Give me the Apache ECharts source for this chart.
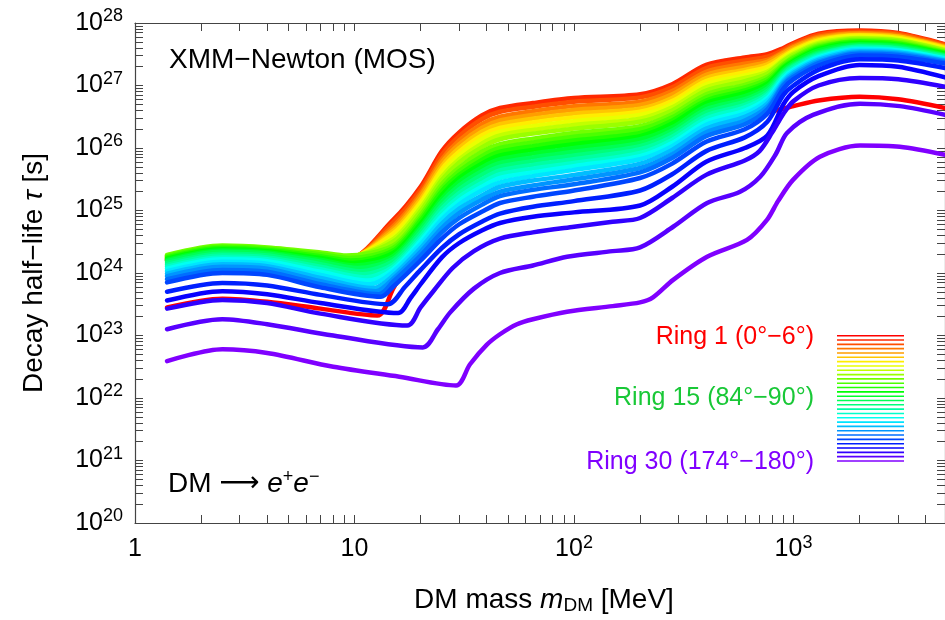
<!DOCTYPE html>
<html><head><meta charset="utf-8">
<script src="https://cdn.jsdelivr.net/npm/echarts@6/dist/echarts.min.js"></script>
<style>html,body{margin:0;padding:0;background:#fff}#c{width:945px;height:620px}</style>
</head><body><div id="c"></div>
<script>
// ---------------- DATA (log10 of decay half-life in s) ----------------
// Rings 2..25 share a mass grid: 4 low-mass points, then a per-ring kink, then the rest
const bandMassLow = [1.4, 2.5, 4, 7];
const bandMassHigh = [15, 20, 25, 30, 38, 46, 65, 100, 200, 280, 400, 600, 760, 900, 1000, 1300, 2000, 3000, 4900];
const bandKinkMass = [9.0, 9.0, 9.0, 9.0, 9.0, 9.0, 9.0, 9.0, 9.0, 9.2, 9.4, 9.6, 9.8, 10.0, 10.3, 10.6, 10.9, 11.2, 11.5, 11.8, 12.2, 12.5, 12.9, 13.2];
const bandKinkLog = [24.18, 24.19, 24.20, 24.21, 24.22, 24.23, 24.24, 24.25, 24.26, 24.28, 24.24, 24.20, 24.16, 24.12, 24.08, 24.03, 23.98, 23.93, 23.88, 23.82, 23.76, 23.71, 23.66, 23.62];
const bandLog = [
 [24.20,24.35,24.32,24.23, 24.85,25.38,25.95,26.25,26.52,26.64,26.72,26.80,26.86,27.02,27.33,27.45,27.50,27.60,27.68,27.83,27.88,27.84,27.66],
 [24.21,24.36,24.33,24.24, 24.81,25.33,25.89,26.19,26.46,26.58,26.66,26.74,26.81,26.97,27.28,27.40,27.46,27.57,27.66,27.81,27.86,27.83,27.65],
 [24.22,24.37,24.34,24.25, 24.75,25.27,25.82,26.12,26.38,26.50,26.59,26.67,26.74,26.91,27.22,27.35,27.41,27.54,27.63,27.78,27.84,27.81,27.63],
 [24.23,24.38,24.35,24.26, 24.71,25.23,25.77,26.06,26.32,26.44,26.53,26.61,26.69,26.86,27.17,27.30,27.38,27.52,27.61,27.76,27.83,27.79,27.62],
 [24.24,24.39,24.36,24.27, 24.67,25.18,25.71,26.00,26.26,26.38,26.47,26.55,26.63,26.80,27.12,27.25,27.34,27.49,27.58,27.74,27.81,27.78,27.61],
 [24.25,24.40,24.37,24.28, 24.63,25.13,25.66,25.94,26.20,26.32,26.41,26.49,26.58,26.75,27.07,27.21,27.30,27.46,27.56,27.72,27.80,27.76,27.60],
 [24.26,24.41,24.38,24.29, 24.58,25.09,25.60,25.88,26.14,26.26,26.35,26.43,26.53,26.70,27.02,27.16,27.26,27.44,27.54,27.70,27.78,27.75,27.58],
 [24.27,24.42,24.39,24.30, 24.54,25.04,25.54,25.82,26.07,26.20,26.29,26.37,26.47,26.65,26.97,27.12,27.22,27.41,27.51,27.68,27.76,27.73,27.57],
 [24.28,24.43,24.40,24.31, 24.50,24.99,25.49,25.77,26.01,26.14,26.23,26.31,26.42,26.60,26.92,27.07,27.19,27.39,27.49,27.66,27.75,27.72,27.56],
 [24.29,24.44,24.41,24.33, 24.44,24.93,25.42,25.69,25.94,26.06,26.15,26.24,26.35,26.54,26.86,27.01,27.14,27.35,27.46,27.64,27.73,27.70,27.54],
 [24.27,24.42,24.39,24.30, 24.40,24.88,25.36,25.63,25.87,26.00,26.09,26.18,26.30,26.49,26.81,26.97,27.10,27.33,27.44,27.62,27.71,27.68,27.53],
 [24.25,24.40,24.37,24.27, 24.36,24.84,25.31,25.57,25.81,25.94,26.03,26.12,26.24,26.44,26.76,26.92,27.06,27.30,27.41,27.60,27.70,27.67,27.52],
 [24.23,24.38,24.35,24.24, 24.32,24.79,25.25,25.52,25.75,25.88,25.97,26.06,26.19,26.39,26.72,26.88,27.03,27.28,27.39,27.58,27.68,27.65,27.51],
 [24.21,24.36,24.33,24.21, 24.27,24.74,25.19,25.46,25.69,25.82,25.91,26.00,26.14,26.33,26.67,26.83,26.99,27.25,27.37,27.56,27.66,27.64,27.49],
 [24.19,24.34,24.31,24.18, 24.23,24.70,25.14,25.40,25.63,25.76,25.85,25.94,26.08,26.28,26.62,26.78,26.95,27.22,27.34,27.53,27.65,27.62,27.48],
 [24.16,24.31,24.28,24.14, 24.19,24.65,25.08,25.34,25.57,25.70,25.79,25.88,26.03,26.23,26.57,26.74,26.91,27.20,27.32,27.51,27.63,27.60,27.47],
 [24.13,24.28,24.25,24.10, 24.14,24.60,25.03,25.28,25.50,25.64,25.73,25.82,25.98,26.18,26.52,26.69,26.87,27.17,27.30,27.49,27.62,27.59,27.46],
 [24.10,24.25,24.22,24.06, 24.10,24.55,24.97,25.22,25.44,25.58,25.67,25.76,25.92,26.13,26.47,26.65,26.84,27.15,27.27,27.47,27.60,27.57,27.44],
 [24.07,24.22,24.19,24.02, 24.06,24.51,24.91,25.16,25.38,25.52,25.61,25.71,25.87,26.08,26.42,26.60,26.80,27.12,27.25,27.45,27.58,27.56,27.43],
 [24.03,24.18,24.15,23.97, 24.02,24.46,24.86,25.10,25.32,25.45,25.55,25.65,25.82,26.03,26.37,26.55,26.76,27.09,27.23,27.43,27.57,27.54,27.42],
 [23.99,24.14,24.11,23.92, 23.96,24.40,24.79,25.03,25.24,25.38,25.48,25.57,25.75,25.97,26.31,26.50,26.71,27.06,27.20,27.41,27.55,27.53,27.40],
 [23.95,24.10,24.07,23.87, 23.91,24.34,24.72,24.96,25.17,25.30,25.40,25.50,25.68,25.90,26.25,26.44,26.66,27.03,27.17,27.38,27.53,27.51,27.39],
 [23.90,24.05,24.02,23.82, 23.86,24.28,24.65,24.88,25.09,25.23,25.33,25.42,25.61,25.84,26.19,26.38,26.62,27.00,27.14,27.36,27.51,27.49,27.37],
 [23.85,24.00,23.97,23.77, 23.78,24.20,24.55,24.78,24.98,25.12,25.22,25.32,25.52,25.75,26.10,26.30,26.55,26.95,27.10,27.32,27.48,27.46,27.35]
];
// Ring 1 and rings 26..30: own mass grids
const ring1Mass  = [1.4,2.5,4,7,12.7,15,20,25,30,38,46,65,86,150,200,280,400,600,760,900,1000,1300,2000,3000,4900];
const ring1Log   = [23.45,23.59,23.54,23.43,23.32,23.75,24.55,25.20,25.60,25.82,25.92,26.00,26.06,26.10,26.15,26.30,26.40,26.50,26.57,26.63,26.67,26.76,26.82,26.78,26.64];
const ring26Mass = [1.4,2.5,4,7,14.2,17,20,25,30,38,46,65,100,200,280,400,600,760,900,1000,1300,2000,3000,4900];
const ring26Log  = [23.70,23.84,23.80,23.65,23.50,23.78,24.05,24.40,24.62,24.82,24.95,25.06,25.15,25.32,25.58,25.95,26.17,26.42,26.85,27.00,27.25,27.42,27.40,27.28];
const ring27Mass = [1.4,2.5,4,7,15.8,18,20,25,30,38,46,65,100,200,280,400,600,760,900,1000,1300,2000,3000,4900];
const ring27Log  = [23.56,23.71,23.66,23.52,23.36,23.60,23.82,24.25,24.48,24.68,24.80,24.90,24.97,25.08,25.38,25.78,26.00,26.20,26.70,26.90,27.15,27.33,27.30,27.13];
const ring28Mass = [1.4,2.5,4,7,17.4,20,23,28,35,46,65,100,150,200,280,400,600,700,800,900,1000,1300,2000,3000,4900];
const ring28Log  = [23.43,23.57,23.52,23.35,23.16,23.45,23.72,24.08,24.35,24.55,24.65,24.74,24.82,24.88,25.20,25.57,25.80,25.95,26.25,26.55,26.75,27.00,27.12,27.10,26.98];
const ring29Mass = [1.4,2.5,4,8,20.5,24,27.3,35,46,65,93,150,200,283,404,571,705,830,934,1227,2010,3050,4900];
const ring29Log  = [23.10,23.26,23.18,23.00,22.81,23.10,23.37,23.75,24.00,24.12,24.26,24.35,24.41,24.74,25.12,25.30,25.54,25.90,26.24,26.53,26.71,26.67,26.53];
const ring30Mass = [1.4,2.5,4,8,16,29,33.6,40,46,55,65,93,150,200,229,283,404,614,757,850,995,1320,2010,3050,4900];
const ring30Log  = [22.59,22.78,22.72,22.50,22.34,22.20,22.54,22.85,23.02,23.18,23.26,23.38,23.47,23.53,23.61,23.89,24.26,24.53,24.85,25.15,25.49,25.86,26.04,26.02,25.89];

// tick labels
const xLabelValues = [1, 10, 100, 1000];
const xLabelBase = ['1', '10', '10', '10'];
const xLabelExp = ['', '', '2', '3'];
const yLabelValues = [1e20, 1e21, 1e22, 1e23, 1e24, 1e25, 1e26, 1e27, 1e28];
const yLabelExp = ['20', '21', '22', '23', '24', '25', '26', '27', '28'];
const legendTexts = ['Ring 1 (0\u00b0\u22126\u00b0)', 'Ring 15 (84\u00b0\u221290\u00b0)', 'Ring 30 (174\u00b0\u2212180\u00b0)'];

// ---------------- BUILD ----------------
function ringColor(i) {
  const h = (i - 1) / 29 * 270;
  const x = 1 - Math.abs((h / 60) % 2 - 1);
  let r, g, b;
  if (h < 60) { r = 1; g = x; b = 0; }
  else if (h < 120) { r = x; g = 1; b = 0; }
  else if (h < 180) { r = 0; g = 1; b = x; }
  else if (h < 240) { r = 0; g = x; b = 1; }
  else { r = x; g = 0; b = 1; }
  return 'rgb(' + Math.round(r * 255) + ',' + Math.round(g * 255) + ',' + Math.round(b * 255) + ')';
}
function pairs(ms, ls) { return ms.map((m, k) => [m, Math.pow(10, ls[k])]); }

const ringData = [];
ringData[1] = pairs(ring1Mass, ring1Log);
for (let r = 2; r <= 25; r++) {
  const row = bandLog[r - 2];
  const ms = bandMassLow.concat([bandKinkMass[r - 2]], bandMassHigh);
  const ls = row.slice(0, 4).concat([bandKinkLog[r - 2]], row.slice(4));
  ringData[r] = pairs(ms, ls);
}
ringData[26] = pairs(ring26Mass, ring26Log);
ringData[27] = pairs(ring27Mass, ring27Log);
ringData[28] = pairs(ring28Mass, ring28Log);
ringData[29] = pairs(ring29Mass, ring29Log);
ringData[30] = pairs(ring30Mass, ring30Log);

const series = [];
for (let r = 1; r <= 30; r++) {
  series.push({
    name: 'Ring ' + r, type: 'line', data: ringData[r], showSymbol: false, symbol: 'none',
    smooth: 0.3,
    lineStyle: { color: ringColor(r), width: 4.5, cap: 'round', join: 'round' },
    itemStyle: { color: ringColor(r) }, silent: true
  });
}

const xTicks = [];
[1, 10, 100, 1000].forEach(d => { for (let k = 1; k <= 9; k++) { const v = k * d; if (v <= 4900) xTicks.push(v); } });
const yTicks = [];
for (let e = 20; e < 28; e++) { for (let k = 1; k <= 9; k++) yTicks.push(k * Math.pow(10, e)); }
yTicks.push(1e28);

const FONT = '"Liberation Sans", Arial, sans-serif';
const axisColor = '#444';
const tickRich = {
  b: { fontSize: 25, fontFamily: FONT, color: '#000', lineHeight: 31, verticalAlign: 'middle' },
  s: { fontSize: 18, fontFamily: FONT, color: '#000', lineHeight: 18, verticalAlign: 'top' }
};
function xFmt(v) {
  const i = xLabelValues.findIndex(t => Math.abs(Math.log10(t) - Math.log10(v)) < 1e-6);
  if (i < 0) return '';
  return '{b|' + xLabelBase[i] + '}' + (xLabelExp[i] ? '{s|' + xLabelExp[i] + '}' : '');
}
function yFmt(v) {
  const i = yLabelValues.findIndex(t => Math.abs(Math.log10(t) - Math.log10(v)) < 1e-6);
  if (i < 0) return '';
  return '{b|10}{s|' + yLabelExp[i] + '}';
}
function xAx(pos, labels) {
  return {
    type: 'log', logBase: 10, min: 1, max: 4900, position: pos,
    axisLine: { show: true, lineStyle: { color: axisColor, width: 1.2 } },
    axisTick: { show: true, inside: true, length: 8, customValues: xTicks, lineStyle: { color: axisColor, width: 1 } },
    minorTick: { show: false }, splitLine: { show: false },
    axisLabel: labels ? { show: true, customValues: xLabelValues, formatter: xFmt, rich: tickRich, margin: 11 } : { show: false },
    name: labels ? '{n|DM mass }{i|m}{s|DM}{n| [MeV]}' : '',
    nameLocation: 'middle', nameGap: 62,
    nameTextStyle: {
      padding: [0, 0, 0, 8],
      rich: {
        n: { fontSize: 28, fontFamily: FONT, color: '#000', lineHeight: 30 },
        i: { fontSize: 28, fontFamily: FONT, fontStyle: 'italic', color: '#000', lineHeight: 30 },
        s: { fontSize: 19, fontFamily: FONT, color: '#000', lineHeight: 19, verticalAlign: 'bottom' }
      }
    }
  };
}
function yAx(pos, labels) {
  return {
    type: 'log', logBase: 10, min: 1e20, max: 1e28, position: pos,
    axisLine: { show: true, lineStyle: { color: axisColor, width: 1.2 } },
    axisTick: { show: true, inside: true, length: 8, customValues: yTicks, lineStyle: { color: axisColor, width: 1 } },
    minorTick: { show: false }, splitLine: { show: false },
    axisLabel: labels ? { show: true, customValues: yLabelValues, formatter: yFmt, rich: tickRich, margin: 12 } : { show: false },
    name: labels ? '{n|Decay half\u2212life }{i|\u03c4}{n| [s]}' : '',
    nameLocation: 'middle', nameGap: 86, nameRotate: 90,
    nameTextStyle: {
      rich: {
        n: { fontSize: 28, fontFamily: FONT, color: '#000', lineHeight: 30 },
        i: { fontSize: 28, fontFamily: FONT, fontStyle: 'italic', color: '#000', lineHeight: 30 }
      }
    }
  };
}

const graphic = [
  { type: 'text', x: 169, y: 60, silent: true,
    style: { text: 'XMM\u2212Newton (MOS)', font: '28px ' + FONT, fill: '#000', align: 'left', verticalAlign: 'middle', textAlign: 'left', textVerticalAlign: 'middle' } },
  { type: 'text', x: 168, y: 484, silent: true,
    style: {
      text: '{n|DM }{a|\u27f6}{n| }{i|e}{p|+}{i|e}{p|\u2212}', fill: '#000',
      align: 'left', verticalAlign: 'middle', textAlign: 'left', textVerticalAlign: 'middle',
      rich: {
        n: { font: '28px ' + FONT, lineHeight: 32, fill: '#000' },
        a: { font: '28px "DejaVu Sans", sans-serif', lineHeight: 32, fill: '#000' },
        i: { font: 'italic 28px ' + FONT, lineHeight: 32, fill: '#000' },
        p: { font: '18px ' + FONT, lineHeight: 18, verticalAlign: 'top', fill: '#000' }
      }
    } }
];
const legendColors = [ringColor(1), 'rgb(25,200,55)', ringColor(30)];
const legendY = [337, 398, 462];
legendTexts.forEach((t, k) => {
  graphic.push({ type: 'text', x: 814, y: legendY[k], silent: true,
    style: { text: t, font: '25px ' + FONT, fill: legendColors[k], align: 'right', verticalAlign: 'middle', textAlign: 'right', textVerticalAlign: 'middle' } });
});
for (let r = 1; r <= 30; r++) {
  const y = 335.7 + (r - 1) * 4.32;
  graphic.push({ type: 'line', silent: true, shape: { x1: 837, y1: y, x2: 904, y2: y }, style: { stroke: ringColor(r), lineWidth: 1.6 } });
}

const chart = echarts.init(document.getElementById('c'), null, { renderer: 'canvas' });
chart.setOption({
  animation: false,
  backgroundColor: '#fff',
  textStyle: { fontFamily: FONT },
  grid: { left: 135, right: 0, top: 23, bottom: 96, containLabel: false },
  xAxis: [xAx('bottom', true), xAx('top', false)],
  yAxis: [yAx('left', true), yAx('right', false)],
  series: series,
  graphic: graphic
});
</script></body></html>
